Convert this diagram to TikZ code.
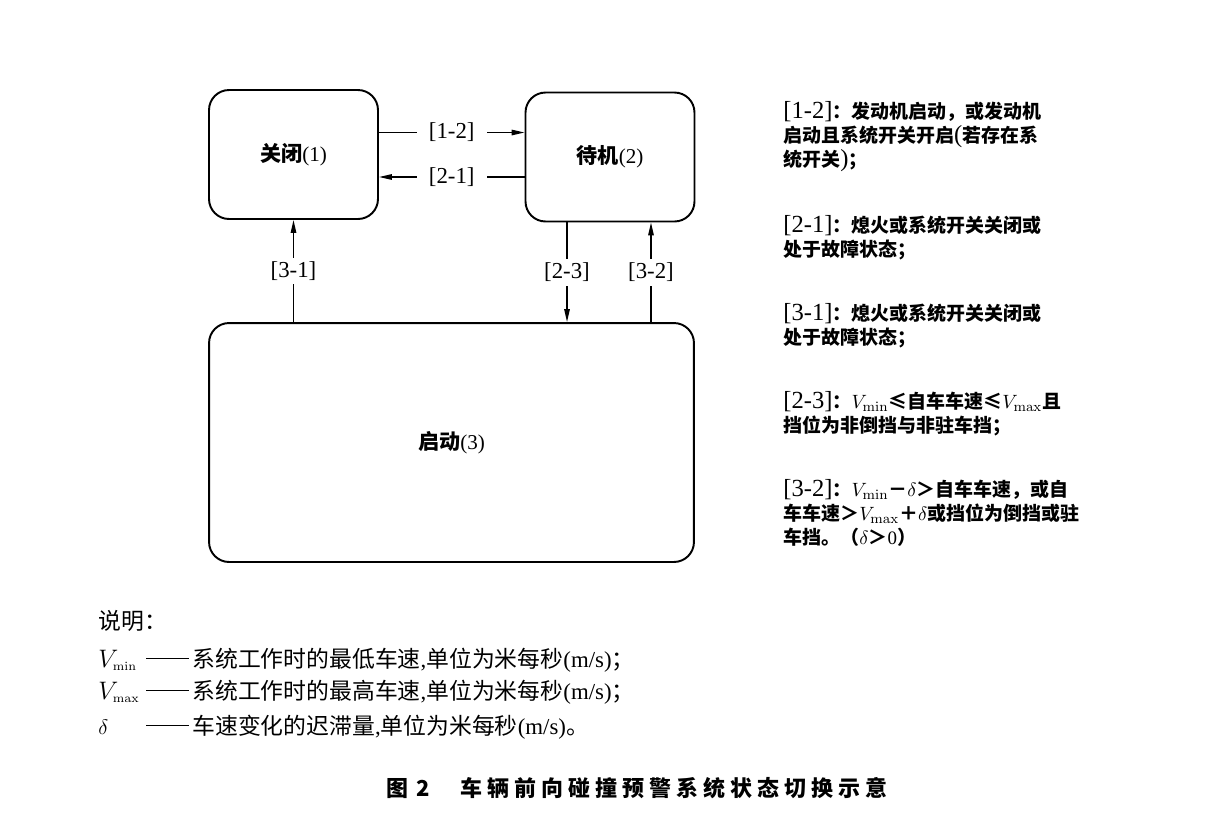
\documentclass[tikz,border=0pt]{standalone}
\usepackage[no-math]{fontspec}
\setmainfont{Noto Sans CJK SC}
\newfontfamily\lat{Liberation Serif}
\newfontfamily\ttl[LetterSpace=23]{Noto Sans CJK SC}
\usetikzlibrary{arrows.meta,positioning}
\newcommand\brk[1]{{\lat\mdseries\fontsize{14}{14}\selectfont #1}}
\newcommand\ldash{\rule[0.33em]{0.86cm}{0.6pt}\hspace{0.06cm}}
\tikzset{
  state/.style={draw, line width=1.1pt, rounded corners=0.4cm,
                minimum width=3.38cm, minimum height=2.58cm, font=\bfseries\fontsize{12}{14}\selectfont},
  arrow/.style={-{Triangle[length=2.6mm,width=1.1mm]}, line width=0.8pt},
  edgelabel/.style={fill=white, inner xsep=0.24cm, inner ysep=0.08cm,
                    font=\lat\fontsize{13}{15}\selectfont},
  note/.style={anchor=north west, inner sep=0pt, align=left,
               font=\bfseries\fontsize{10.8}{13.6}\selectfont},
  legend/.style={anchor=base west, inner sep=0pt, font=\fontsize{13}{15}\selectfont},
}

\begin{document}
\begin{tikzpicture}[x=0.02cm, y=-0.02cm]
\useasboundingbox (0,0) rectangle (1230,816);

% states
\node[state] (off) at (293.5,154.5) {关闭{\lat\mdseries(1)}};
\node[state] (stby) at (610,157) {待机{\lat\mdseries(2)}};
\node[state, minimum width=9.7cm, minimum height=4.78cm] (run) at (451.5,442.5) {启动{\lat\mdseries(3)}};

% transitions
\draw[arrow] ([yshift=0.44cm]off.east) -- ([yshift=0.44cm]off.east -| stby.west)
  node[midway, edgelabel] {[1-2]};
\draw[arrow] ([yshift=-0.45cm]off.east -| stby.west) -- ([yshift=-0.45cm]off.east)
  node[midway, edgelabel] {[2-1]};
\draw[arrow] (off.south |- run.north) -- (off.south)
  node[midway, edgelabel] {[3-1]};
\draw[arrow] ([xshift=-0.86cm]stby.south) -- ([xshift=-0.86cm]stby.south |- run.north)
  node[midway, edgelabel] {[2-3]};
\draw[arrow] ([xshift=0.82cm]stby.south |- run.north) -- ([xshift=0.82cm]stby.south)
  node[midway, edgelabel] {[3-2]};

% conditions
\node[note] (n12) at (783,101) {\brk{[1-2]}：发动机启动，或发动机\\启动且系统开关开启\brk{(}若存在系\\统开关\brk{)}；};
\node[note, below=0.86cm of n12.south west, anchor=north west] (n21) {\brk{[2-1]}：熄火或系统开关关闭或\\处于故障状态；};
\node[note, below=0.86cm of n21.south west, anchor=north west] (n31) {\brk{[3-1]}：熄火或系统开关关闭或\\处于故障状态；};
\node[note, below=0.86cm of n31.south west, anchor=north west] (n23) {\brk{[2-3]}：$V_{\mathrm{min}}$≤自车车速≤$V_{\mathrm{max}}$且\\挡位为非倒挡与非驻车挡；};
\node[note, below=0.86cm of n23.south west, anchor=north west] (n32) {\brk{[3-2]}：$V_{\mathrm{min}}$－$\delta$＞自车车速，或自\\车车速＞$V_{\mathrm{max}}$＋$\delta$或挡位为倒挡或驻\\车挡。（$\delta$＞{\lat\mdseries 0}）};

% legend
\node[legend] (lg) at (98,629) {说明：};
\node[legend] (lvmin) at (98,667) {\fontsize{14}{14}\selectfont$V_{\scriptscriptstyle\mathrm{min}}$};
\node[legend] (dvmin) at (146,667) {\ldash 系统工作时的最低车速{\lat,}单位为米每秒{\lat(m/s)}；};
\node[legend] (lvmax) at (98,699) {\fontsize{14}{14}\selectfont$V_{\scriptscriptstyle\mathrm{max}}$};
\node[legend] (dvmax) at (146,699) {\ldash 系统工作时的最高车速{\lat,}单位为米每秒{\lat(m/s)}；};
\node[legend] (ldelta) at (98,734) {$\delta$};
\node[legend] (ddelta) at (146,734) {\ldash 车速变化的迟滞量{\lat,}单位为米每秒{\lat(m/s)}。};

% caption
\node[anchor=west, inner sep=0pt, font=\ttl\bfseries\fontsize{12.5}{15}\selectfont] (title) at (386,788)
  {图\hspace{0.17cm}2\hspace{0.6cm}车辆前向碰撞预警系统状态切换示意};
\end{tikzpicture}
\end{document}
